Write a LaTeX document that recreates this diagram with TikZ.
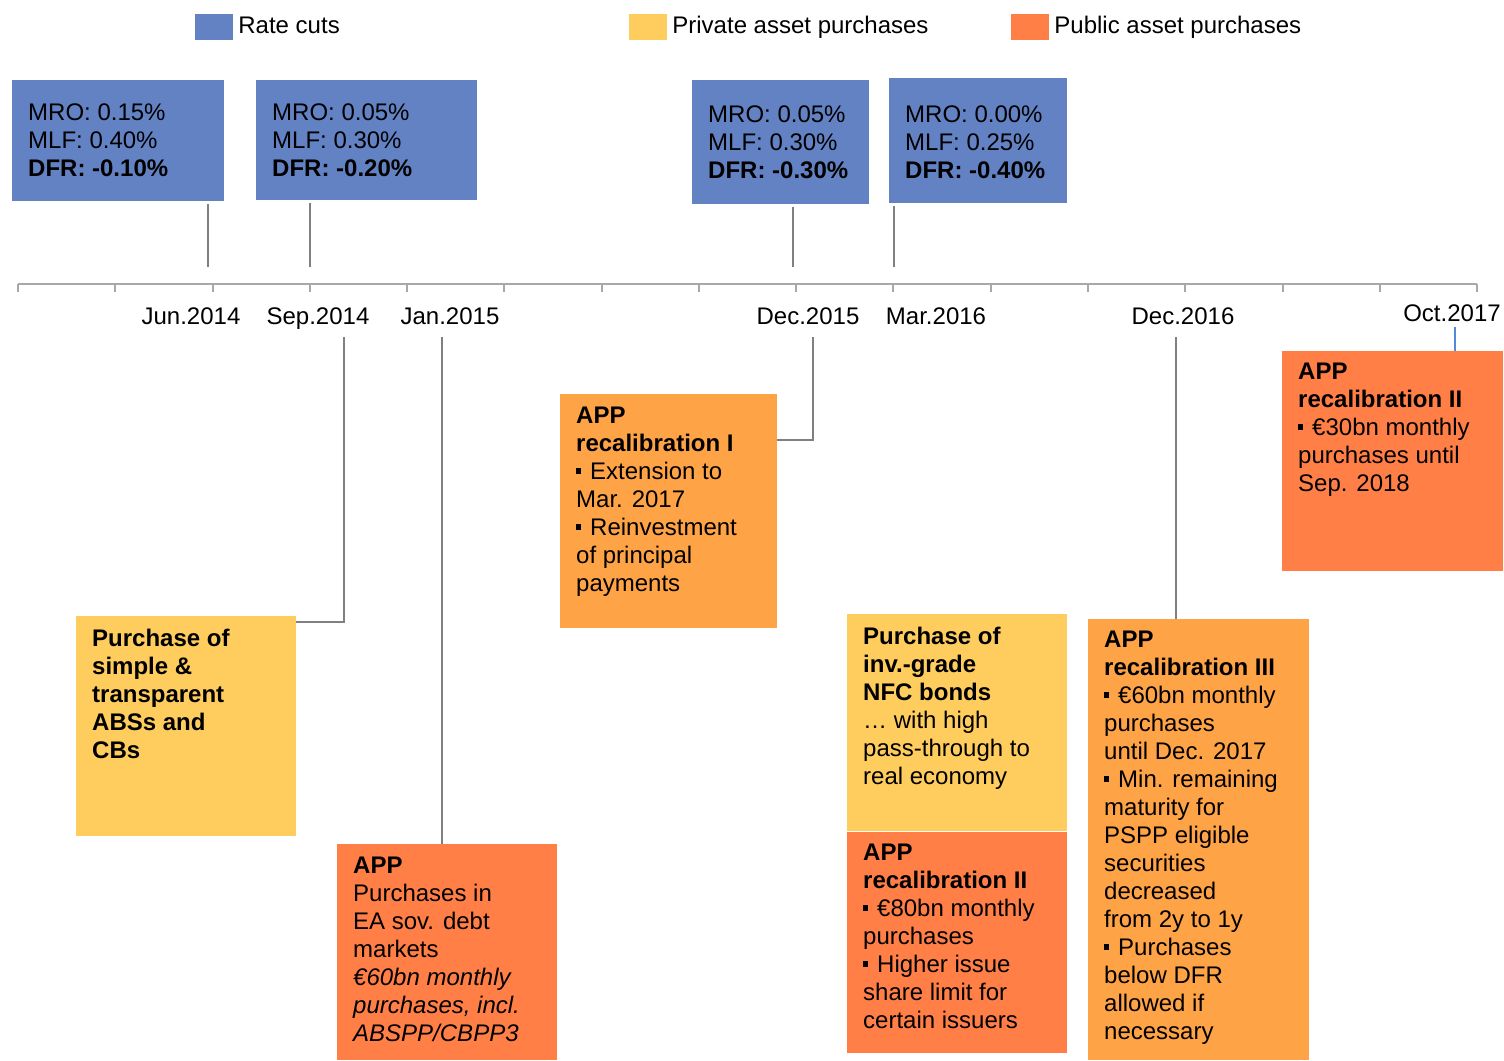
\documentclass[tikz,border=0pt]{standalone}
\usepackage{fontspec}
\setmainfont{Liberation Sans}
\usepackage{tikz}
\usetikzlibrary{positioning,calc}
\definecolor{cutblue}{RGB}{99,130,196}
\definecolor{privyellow}{RGB}{255,204,94}
\definecolor{recorange}{RGB}{255,163,71}
\definecolor{pubred}{RGB}{255,127,71}
\definecolor{linkgray}{RGB}{128,128,128}
\definecolor{axisgray}{RGB}{168,168,168}
\definecolor{linkblue}{RGB}{84,138,212}
\newcommand{\sqb}{\rule[5pt]{5pt}{6pt}\hspace{9pt}}

\begin{document}
\begin{tikzpicture}[x=1pt,y=-1pt,
    box/.style={anchor=north west,inner sep=0pt,outer sep=0pt},
    boxtxt/.style={anchor=north west,inner sep=0pt,align=left,font=\fontsize{24}{28}\selectfont},
    swatch/.style={minimum width=38pt,minimum height=26pt,inner sep=0pt},
    legtxt/.style={inner sep=0pt,text height=17pt,text depth=5pt,font=\fontsize{24}{28}\selectfont},
    datelbl/.style={inner sep=0pt,text height=17pt,text depth=5pt,font=\fontsize{24}{28}\selectfont},
    link/.style={draw=linkgray,line width=2pt}]
  \useasboundingbox (0,0) rectangle (1504,1060);

  % legend
  \node[swatch,fill=cutblue] (kcut) at (214,27) {};
  \node[legtxt,right=5pt of kcut] (lcut) {Rate cuts};
  \node[swatch,fill=privyellow] (kpriv) at (648,27) {};
  \node[legtxt,right=5pt of kpriv] (lpriv) {Private asset purchases};
  \node[swatch,fill=pubred] (kpub) at (1030,27) {};
  \node[legtxt,right=5pt of kpub] (lpub) {Public asset purchases};

  % rate cuts above the axis
  \node[box,fill=cutblue,minimum width=212pt,minimum height=121pt] (cut1) at (12,80) {};
  \node[boxtxt] (cut1t) at ([xshift=16pt,yshift=-20.4pt]cut1.north west)
    {\strut MRO: 0.15\%\\MLF: 0.40\%\\\textbf{DFR: -0.10\%}};
  \node[box,fill=cutblue,minimum width=221pt,minimum height=120pt] (cut2) at (256,80) {};
  \node[boxtxt] (cut2t) at ([xshift=16pt,yshift=-20.4pt]cut2.north west)
    {\strut MRO: 0.05\%\\MLF: 0.30\%\\\textbf{DFR: -0.20\%}};
  \node[box,fill=cutblue,minimum width=177pt,minimum height=124pt] (cut3) at (692,80) {};
  \node[boxtxt] (cut3t) at ([xshift=16pt,yshift=-22.4pt]cut3.north west)
    {\strut MRO: 0.05\%\\MLF: 0.30\%\\\textbf{DFR: -0.30\%}};
  \node[box,fill=cutblue,minimum width=178pt,minimum height=125pt] (cut4) at (889,78) {};
  \node[boxtxt] (cut4t) at ([xshift=16pt,yshift=-24.4pt]cut4.north west)
    {\strut MRO: 0.00\%\\MLF: 0.25\%\\\textbf{DFR: -0.40\%}};

  % time axis with ticks
  \draw[axisgray,line width=2.5pt] (18,284) -- (1477,284);
  \foreach \i in {0,...,15}
    \draw[axisgray,line width=2pt] (18+97.27*\i,284) -- ++(0,8);

  % dates
  \node[datelbl] (ljun14) at (191,318) {Jun.2014};
  \node[datelbl] (lsep14) at (318,318) {Sep.2014};
  \node[datelbl] (ljan15) at (450,318) {Jan.2015};
  \node[datelbl] (ldec15) at (808,318) {Dec.2015};
  \node[datelbl] (lmar16) at (936,318) {Mar.2016};
  \node[datelbl] (ldec16) at (1183,318) {Dec.2016};
  \node[datelbl] (loct17) at (1452,315) {Oct.2017};

  % purchase programmes below the axis
  \node[box,fill=privyellow,minimum width=220pt,minimum height=220pt] (abs) at (76,616) {};
  \node[boxtxt] (abst) at ([xshift=16pt,yshift=-10.4pt]abs.north west)
    {\strut\textbf{Purchase of}\\\textbf{simple \&}\\\textbf{transparent}\\\textbf{ABSs and}\\\textbf{CBs}};
  \node[box,fill=pubred,minimum width=220pt,minimum height=216pt] (app) at (337,844) {};
  \node[boxtxt] (appt) at ([xshift=16pt,yshift=-9.4pt]app.north west)
    {\strut\textbf{APP}\\Purchases in\\EA sov. debt\\markets\\\textit{€60bn monthly}\\\textit{purchases, incl.}\\\textit{ABSPP/CBPP3}};
  \node[box,fill=recorange,minimum width=217pt,minimum height=234pt] (rec1) at (560,394) {};
  \node[boxtxt] (rec1t) at ([xshift=16pt,yshift=-9.4pt]rec1.north west)
    {\strut\textbf{APP}\\\textbf{recalibration I}\\\sqb Extension to\\Mar. 2017\\\sqb Reinvestment\\of principal\\payments};
  \node[box,fill=privyellow,minimum width=220pt,minimum height=217pt] (nfc) at (847,614) {};
  \node[boxtxt] (nfct) at ([xshift=16pt,yshift=-10.4pt]nfc.north west)
    {\strut\textbf{Purchase of}\\\textbf{inv.-grade}\\\textbf{NFC bonds}\\\dots{} with high\\pass-through to\\real economy};
  \node[box,fill=pubred,minimum width=220pt,minimum height=221pt] (rec2) at (847,832) {};
  \node[boxtxt] (rec2t) at ([xshift=16pt,yshift=-8.4pt]rec2.north west)
    {\strut\textbf{APP}\\\textbf{recalibration II}\\\sqb €80bn monthly\\purchases\\\sqb Higher issue\\share limit for\\certain issuers};
  \node[box,fill=recorange,minimum width=221pt,minimum height=441pt] (rec3) at (1088,619) {};
  \node[boxtxt] (rec3t) at ([xshift=16pt,yshift=-8.4pt]rec3.north west)
    {\strut\textbf{APP}\\\textbf{recalibration III}\\\sqb €60bn monthly\\purchases\\until Dec. 2017\\\sqb Min. remaining\\maturity for\\PSPP eligible\\securities\\decreased\\from 2y to 1y\\\sqb Purchases\\below DFR\\allowed if\\necessary};
  \node[box,fill=pubred,minimum width=221pt,minimum height=220pt] (rec2b) at (1282,351) {};
  \node[boxtxt] (rec2bt) at ([xshift=16pt,yshift=-8.4pt]rec2b.north west)
    {\strut\textbf{APP}\\\textbf{recalibration II}\\\sqb €30bn monthly\\purchases until\\Sep. 2018};

  % links from the rate cuts to the axis
  \coordinate (jun14) at (208,267);
  \coordinate (sep14up) at (310,267);
  \coordinate (dec15up) at (793,267);
  \coordinate (mar16) at (894,267);
  \draw[link,shorten <=3pt] (jun14 |- cut1.south) -- (jun14);
  \draw[link,shorten <=3pt] (sep14up |- cut2.south) -- (sep14up);
  \draw[link,shorten <=3pt] (dec15up |- cut3.south) -- (dec15up);
  \draw[link,shorten <=3pt] (mar16 |- cut4.south) -- (mar16);

  % links from the dates to the programmes
  \coordinate (sep14) at (344,337);
  \coordinate (jan15) at (442,337);
  \coordinate (dec15) at (813,337);
  \coordinate (dec16) at (1176,337);
  \coordinate (oct17) at (1455,327);
  \draw[link] (sep14) |- ([yshift=-6pt]abs.north east);
  \draw[link] (jan15) -- (jan15 |- app.north);
  \draw[link] (dec15) |- ([yshift=-46pt]rec1.north east);
  \draw[link] (dec16) -- (dec16 |- rec3.north);
  \draw[draw=linkblue,line width=1.5pt] (oct17) -- (oct17 |- rec2b.north);
\end{tikzpicture}
\end{document}
